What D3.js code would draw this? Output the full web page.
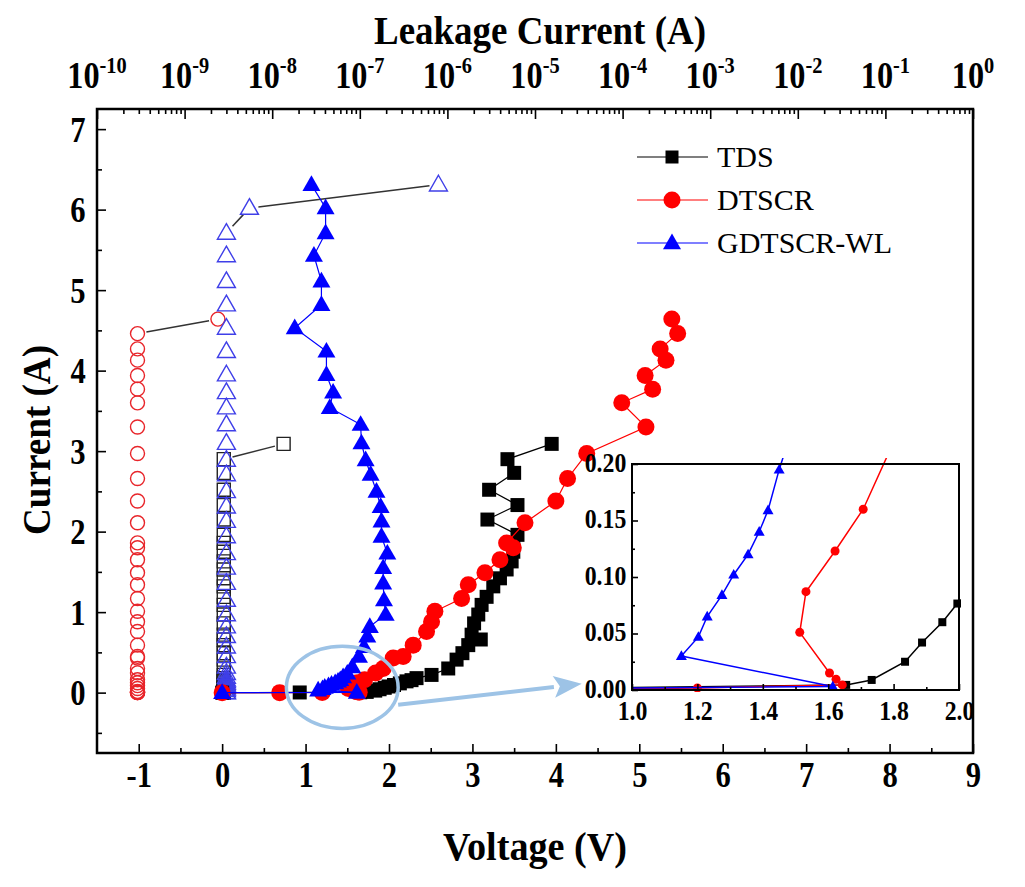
<!DOCTYPE html>
<html>
<head>
<meta charset="utf-8">
<script src="https://cdn.jsdelivr.net/npm/d3@7"></script>
<style>
body { margin: 0; background: #fff; }
svg text { font-family: "Liberation Serif", "Times New Roman", serif; fill: #000; }
.bold { font-weight: bold; }
.squeeze { transform: scaleX(0.85); transform-box: fill-box; transform-origin: center; }
</style>
</head>
<body>
<div id="chart"></div>
<script>
// TLP curves, voltage (V) and current (A)
var tdsVoltage = [0, 0.93, 1.655, 1.733, 1.835, 1.887, 1.949, 1.995, 2.06, 2.13, 2.21, 2.27, 2.33, 2.51, 2.71, 2.81, 2.88, 2.95, 3.10, 2.99, 3.02, 3.07, 3.11, 3.17, 3.25, 3.33, 3.41, 3.47, 3.49, 3.49, 3.54, 3.18, 3.54, 3.20, 3.50, 3.42, 3.95];
var tdsCurrent = [0, 0.002, 0.0045, 0.0089, 0.025, 0.042, 0.060, 0.0765, 0.095, 0.115, 0.14, 0.155, 0.18, 0.22, 0.30, 0.41, 0.49, 0.59, 0.66, 0.72, 0.86, 0.97, 1.09, 1.19, 1.32, 1.42, 1.53, 1.63, 1.75, 1.86, 1.96, 2.15, 2.33, 2.52, 2.73, 2.90, 3.09];
var tdsLeakage = [2.8e-9, 2.8e-9, 2.8e-9, 2.8e-9, 2.8e-9, 2.8e-9, 2.8e-9, 2.8e-9, 2.8e-9, 2.8e-9, 2.8e-9, 2.8e-9, 2.8e-9, 2.8e-9, 2.8e-9, 2.8e-9, 2.8e-9, 2.8e-9, 2.8e-9, 2.8e-9, 2.8e-9, 2.8e-9, 2.8e-9, 2.8e-9, 2.8e-9, 2.8e-9, 2.8e-9, 2.8e-9, 2.8e-9, 2.8e-9, 2.8e-9, 2.8e-9, 2.8e-9, 2.8e-9, 2.8e-9, 2.8e-9, 1.35e-8];

var dtscrVoltage = [0, 0.69, 1.20, 1.643, 1.624, 1.604, 1.513, 1.532, 1.621, 1.707, 1.84, 1.93, 2.05, 2.17, 2.29, 2.45, 2.51, 2.55, 2.87, 2.95, 3.15, 3.33, 3.49, 3.41, 3.63, 4.00, 4.14, 4.37, 5.08, 4.79, 5.16, 5.07, 5.32, 5.25, 5.46, 5.39];
var dtscrCurrent = [0, 0, 0.0018, 0.0045, 0.0095, 0.015, 0.051, 0.087, 0.123, 0.160, 0.245, 0.30, 0.43, 0.45, 0.59, 0.76, 0.88, 1.01, 1.17, 1.34, 1.49, 1.65, 1.80, 1.86, 2.11, 2.38, 2.66, 2.97, 3.30, 3.60, 3.77, 3.94, 4.13, 4.27, 4.46, 4.64];
var dtscrLeakage = [2.9e-10, 2.9e-10, 2.9e-10, 2.9e-10, 2.9e-10, 2.9e-10, 2.9e-10, 2.9e-10, 2.9e-10, 2.9e-10, 2.9e-10, 2.9e-10, 2.9e-10, 2.9e-10, 2.9e-10, 2.9e-10, 2.9e-10, 2.9e-10, 2.9e-10, 2.9e-10, 2.9e-10, 2.9e-10, 2.9e-10, 2.9e-10, 2.9e-10, 2.9e-10, 2.9e-10, 2.9e-10, 2.9e-10, 2.9e-10, 2.9e-10, 2.9e-10, 2.9e-10, 2.9e-10, 2.9e-10, 2.4e-9];

var gdVoltage = [0, 1.614, 1.151, 1.203, 1.230, 1.275, 1.311, 1.355, 1.389, 1.416, 1.45, 1.50, 1.56, 1.64, 1.70, 1.74, 1.77, 1.96, 1.94, 1.93, 1.93, 1.98, 1.91, 1.91, 1.90, 1.85, 1.78, 1.72, 1.67, 1.66, 1.29, 1.33, 1.25, 1.25, 0.87, 1.19, 1.19, 1.10, 1.24, 1.24, 1.07];
var gdCurrent = [0, 0.003, 0.030, 0.047, 0.065, 0.084, 0.102, 0.120, 0.140, 0.159, 0.195, 0.24, 0.32, 0.45, 0.57, 0.70, 0.82, 0.97, 1.15, 1.36, 1.55, 1.73, 1.94, 2.13, 2.31, 2.50, 2.71, 2.89, 3.10, 3.33, 3.54, 3.73, 3.95, 4.24, 4.53, 4.82, 5.11, 5.43, 5.71, 6.02, 6.31];
var gdLeakage = [3.0e-9, 3.0e-9, 3.0e-9, 3.0e-9, 3.0e-9, 3.0e-9, 3.0e-9, 3.0e-9, 3.0e-9, 3.0e-9, 3.0e-9, 3.0e-9, 3.0e-9, 3.0e-9, 3.0e-9, 3.0e-9, 3.0e-9, 3.0e-9, 3.0e-9, 3.0e-9, 3.0e-9, 3.0e-9, 3.0e-9, 3.0e-9, 3.0e-9, 3.0e-9, 3.0e-9, 3.0e-9, 3.0e-9, 3.0e-9, 3.0e-9, 3.0e-9, 3.0e-9, 3.0e-9, 3.0e-9, 3.0e-9, 3.0e-9, 3.0e-9, 3.0e-9, 5.5e-9, 7.9e-7];

var seriesNames = ["TDS", "DTSCR", "GDTSCR-WL"];
var voltageTicks = [-1, 0, 1, 2, 3, 4, 5, 6, 7, 8, 9];
var currentTicks = [0, 1, 2, 3, 4, 5, 6, 7];
var leakageExponents = [-10, -9, -8, -7, -6, -5, -4, -3, -2, -1, 0];
var insetVoltageTicks = [1.0, 1.2, 1.4, 1.6, 1.8, 2.0];
var insetCurrentTicks = [0, 0.05, 0.10, 0.15, 0.20];

// zoomed region marked by the ellipse, and the arrow to the inset (data units)
var zoomMark = {v: 1.44, i: 0.065, dv: 0.67, di: 0.51};
var arrowFrom = {v: 2.11, i: -0.15}, arrowTo = {v: 4.31, i: 0.11};

var width = 1025, height = 887;
var frame = {left: 97, right: 973, top: 109, bottom: 753};
var inset = {left: 632, right: 959, top: 464, bottom: 690};

var svg = d3.select("#chart").append("svg")
  .attr("width", width).attr("height", height);

var x = d3.scaleLinear().domain([-1.5, 9]).range([frame.left, frame.right]);
var y = d3.scaleLinear().domain([-0.75, 7.25]).range([frame.bottom, frame.top]);
var xLeak = d3.scaleLog().domain([1e-10, 1]).range([frame.left, frame.right]);
var ix = d3.scaleLinear().domain([1, 2]).range([inset.left, inset.right]);
var iy = d3.scaleLinear().domain([0, 0.2]).range([inset.bottom, inset.top]);

var series = [
  {name: seriesNames[0], v: tdsVoltage, c: tdsCurrent, leak: tdsLeakage, color: "#000", open: "#222", shape: "square", leaderFrom: 35},
  {name: seriesNames[1], v: dtscrVoltage, c: dtscrCurrent, leak: dtscrLeakage, color: "#f00", open: "#e8252a", shape: "circle", leaderFrom: 34},
  {name: seriesNames[2], v: gdVoltage, c: gdCurrent, leak: gdLeakage, color: "#0000ff", open: "#3f3fe8", shape: "triangle", leaderFrom: 38}
];

// marker helper; size is roughly the marker width
function marker(g, shape, cx, cy, size, fill, stroke, sw) {
  if (shape == "circle") {
    return g.append("circle").attr("cx", cx).attr("cy", cy).attr("r", size / 2)
      .attr("fill", fill).attr("stroke", stroke).attr("stroke-width", sw);
  }
  var p;
  if (shape == "square") {
    p = "M" + (-size / 2) + "," + (-size / 2) + "h" + size + "v" + size + "h" + (-size) + "Z";
  } else {
    var h = size * 0.87;
    p = "M0," + (-h * 0.6) + "L" + (size / 2) + "," + (h * 0.4) + "L" + (-size / 2) + "," + (h * 0.4) + "Z";
  }
  return g.append("path").attr("d", p).attr("transform", "translate(" + cx + "," + cy + ")")
    .attr("fill", fill).attr("stroke", stroke).attr("stroke-width", sw);
}

// ---------- axes of the main plot ----------
function styleAxis(g) {
  g.select(".domain").remove();
  g.selectAll("line").attr("stroke", "#000").attr("stroke-width", 1.6);
  g.attr("font-family", null).attr("font-size", null);
}

svg.append("g").attr("transform", "translate(0," + frame.bottom + ")")
  .call(d3.axisBottom(x).tickValues(voltageTicks).tickSizeInner(-9).tickSizeOuter(0).tickPadding(8).tickFormat(d => String(d)))
  .call(styleAxis)
  .selectAll("text").attr("class", "bold squeeze").attr("font-size", 36);
svg.append("g").attr("transform", "translate(0," + frame.bottom + ")")
  .call(d3.axisBottom(x).tickValues(voltageTicks.map(d => d + 0.5).slice(0, -1)).tickSize(-5).tickFormat(""))
  .call(styleAxis);

svg.append("g").attr("transform", "translate(" + frame.left + ",0)")
  .call(d3.axisLeft(y).tickValues(currentTicks).tickSizeInner(-9).tickSizeOuter(0).tickPadding(10).tickFormat(d => String(d)))
  .call(styleAxis)
  .selectAll("text").attr("class", "bold squeeze").attr("font-size", 36).attr("dy", "0.34em");
svg.append("g").attr("transform", "translate(" + frame.left + ",0)")
  .call(d3.axisLeft(y).tickValues([-0.5].concat(currentTicks.slice(0, -1).map(d => d + 0.5))).tickSize(-5).tickFormat(""))
  .call(styleAxis);

var decades = leakageExponents.map(e => Math.pow(10, e));
var minorLeak = [];
decades.slice(0, -1).forEach(function (d) {
  for (var k = 2; k <= 9; k++) minorLeak.push(d * k);
});
svg.append("g").attr("transform", "translate(0," + frame.top + ")")
  .call(d3.axisTop(xLeak).tickValues(decades).tickSize(-10).tickFormat(""))
  .call(styleAxis);
svg.append("g").attr("transform", "translate(0," + frame.top + ")")
  .call(d3.axisTop(xLeak).tickValues(minorLeak).tickSize(-5).tickFormat(""))
  .call(styleAxis);

var topLabels = svg.append("g");
leakageExponents.forEach(function (e) {
  var t = topLabels.append("text").attr("class", "bold squeeze")
    .attr("x", xLeak(Math.pow(10, e))).attr("y", 88)
    .attr("text-anchor", "middle").attr("font-size", 38);
  t.append("tspan").text("10");
  t.append("tspan").attr("font-size", 24).attr("dy", -15).text(String(e));
});

// axis titles
svg.append("text").attr("class", "bold").attr("x", 540).attr("y", 44)
  .attr("text-anchor", "middle").attr("font-size", 40)
  .attr("textLength", 332).attr("lengthAdjust", "spacingAndGlyphs")
  .text("Leakage Current (A)");
svg.append("text").attr("class", "bold").attr("x", 535).attr("y", 860)
  .attr("text-anchor", "middle").attr("font-size", 40)
  .attr("textLength", 184).attr("lengthAdjust", "spacingAndGlyphs")
  .text("Voltage (V)");
svg.append("text").attr("class", "bold")
  .attr("transform", "translate(50,440) rotate(-90)")
  .attr("text-anchor", "middle").attr("font-size", 40)
  .attr("textLength", 190).attr("lengthAdjust", "spacingAndGlyphs")
  .text("Current (A)");

// ---------- leakage points (open symbols, top axis) ----------
var leakG = svg.append("g");
series.forEach(function (s) {
  var pts = s.c.map((c, k) => [xLeak(s.leak[k]), y(c)]);
  // dark leader lines where the leakage jumps
  for (var k = s.leaderFrom; k < pts.length - 1; k++) {
    var a = pts[k], b = pts[k + 1];
    var dx = b[0] - a[0], dy = b[1] - a[1], len = Math.sqrt(dx * dx + dy * dy);
    var gap = Math.min(9, len / 3);
    leakG.append("line")
      .attr("x1", a[0] + dx / len * gap).attr("y1", a[1] + dy / len * gap)
      .attr("x2", b[0] - dx / len * gap).attr("y2", b[1] - dy / len * gap)
      .attr("stroke", "#333").attr("stroke-width", 1.5);
  }
  var size = s.shape == "triangle" ? 18 : (s.shape == "circle" ? 14 : 13);
  pts.forEach(function (p) {
    marker(leakG, s.shape, p[0], p[1], size, "none", s.open, 1.4);
  });
});

// ---------- TLP curves (filled symbols) ----------
var line = d3.line().x(d => d[0]).y(d => d[1]);
var tlpG = svg.append("g");
series.forEach(function (s) {
  var pts = s.v.map((v, k) => [x(v), y(s.c[k])]);
  tlpG.append("path").attr("d", line(pts)).attr("fill", "none")
    .attr("stroke", s.color).attr("stroke-width", 1.2);
  var size = s.shape == "triangle" ? 18 : (s.shape == "circle" ? 17 : 14);
  pts.forEach(function (p) {
    marker(tlpG, s.shape, p[0], p[1], size, s.color, "none", 0);
  });
});

// ---------- ellipse and arrow ----------
var blueMark = "#9dc3e6";
svg.append("ellipse")
  .attr("cx", x(zoomMark.v)).attr("cy", y(zoomMark.i))
  .attr("rx", x(zoomMark.v + zoomMark.dv) - x(zoomMark.v))
  .attr("ry", y(zoomMark.i) - y(zoomMark.i + zoomMark.di))
  .attr("fill", "none").attr("stroke", blueMark).attr("stroke-width", 3.5);

var ax1 = x(arrowFrom.v), ay1 = y(arrowFrom.i), ax2 = x(arrowTo.v), ay2 = y(arrowTo.i);
var ang = Math.atan2(ay2 - ay1, ax2 - ax1);
var headLen = 28, headW = 11;
var bx = ax2 - headLen * Math.cos(ang), by = ay2 - headLen * Math.sin(ang);
svg.append("line").attr("x1", ax1).attr("y1", ay1).attr("x2", bx).attr("y2", by)
  .attr("stroke", blueMark).attr("stroke-width", 4);
svg.append("path")
  .attr("d", "M" + ax2 + "," + ay2 +
    "L" + (bx - headW * Math.sin(ang)) + "," + (by + headW * Math.cos(ang)) +
    "L" + (bx + 6 * Math.cos(ang)) + "," + (by + 6 * Math.sin(ang)) +
    "L" + (bx + headW * Math.sin(ang)) + "," + (by - headW * Math.cos(ang)) + "Z")
  .attr("fill", blueMark);

// ---------- frame ----------
svg.append("rect").attr("x", frame.left).attr("y", frame.top)
  .attr("width", frame.right - frame.left).attr("height", frame.bottom - frame.top)
  .attr("fill", "none").attr("stroke", "#000").attr("stroke-width", 2.5);

// ---------- legend ----------
var legend = svg.append("g");
series.forEach(function (s, k) {
  var ly = 157 + k * 43;
  legend.append("line").attr("x1", 637).attr("x2", 708).attr("y1", ly).attr("y2", ly)
    .attr("stroke", s.color).attr("stroke-width", 1.2);
  var size = s.shape == "triangle" ? 18 : (s.shape == "circle" ? 17 : 13);
  marker(legend, s.shape, 672, ly, size, s.color, "none", 0);
  legend.append("text").attr("x", 717).attr("y", ly + 10).attr("font-size", 30).text(s.name);
});

// ---------- inset ----------
var ig = svg.append("g");
ig.append("rect").attr("x", inset.left).attr("y", inset.top)
  .attr("width", inset.right - inset.left).attr("height", inset.bottom - inset.top)
  .attr("fill", "#fff");
svg.append("clipPath").attr("id", "insetClip").append("rect")
  .attr("x", inset.left).attr("y", inset.top - 6)
  .attr("width", inset.right - inset.left + 2).attr("height", inset.bottom - inset.top + 8);

var idata = ig.append("g").attr("clip-path", "url(#insetClip)");
series.forEach(function (s) {
  var pts = s.v.map((v, k) => [ix(v), iy(s.c[k])]);
  idata.append("path").attr("d", line(pts)).attr("fill", "none")
    .attr("stroke", s.color).attr("stroke-width", 1.5);
  var size = s.shape == "triangle" ? 11 : (s.shape == "circle" ? 9 : 8);
  pts.forEach(function (p) {
    if (p[0] < inset.left - 5 || p[0] > inset.right + 5 || p[1] < inset.top - 5) return;
    marker(idata, s.shape, p[0], p[1], size, s.color, "none", 0);
  });
});

ig.append("g").attr("transform", "translate(0," + inset.bottom + ")")
  .call(d3.axisBottom(ix).tickValues(insetVoltageTicks).tickSizeInner(-6).tickSizeOuter(0).tickPadding(10).tickFormat(d3.format(".1f")))
  .call(styleAxis)
  .selectAll("text").attr("class", "bold squeeze").attr("font-size", 28);
ig.append("g").attr("transform", "translate(0," + inset.bottom + ")")
  .call(d3.axisBottom(ix).tickValues([1.1, 1.3, 1.5, 1.7, 1.9]).tickSize(-3).tickFormat(""))
  .call(styleAxis);
ig.append("g").attr("transform", "translate(" + inset.left + ",0)")
  .call(d3.axisLeft(iy).tickValues(insetCurrentTicks).tickSizeInner(-6).tickSizeOuter(0).tickPadding(2).tickFormat(d3.format(".2f")))
  .call(styleAxis)
  .selectAll("text").attr("class", "bold squeeze").attr("font-size", 28).attr("dy", "0.25em");
ig.append("g").attr("transform", "translate(" + inset.left + ",0)")
  .call(d3.axisLeft(iy).tickValues([0.025, 0.075, 0.125, 0.175]).tickSize(-3).tickFormat(""))
  .call(styleAxis);
ig.append("rect").attr("x", inset.left).attr("y", inset.top)
  .attr("width", inset.right - inset.left).attr("height", inset.bottom - inset.top)
  .attr("fill", "none").attr("stroke", "#000").attr("stroke-width", 2);
</script>
</body>
</html>
